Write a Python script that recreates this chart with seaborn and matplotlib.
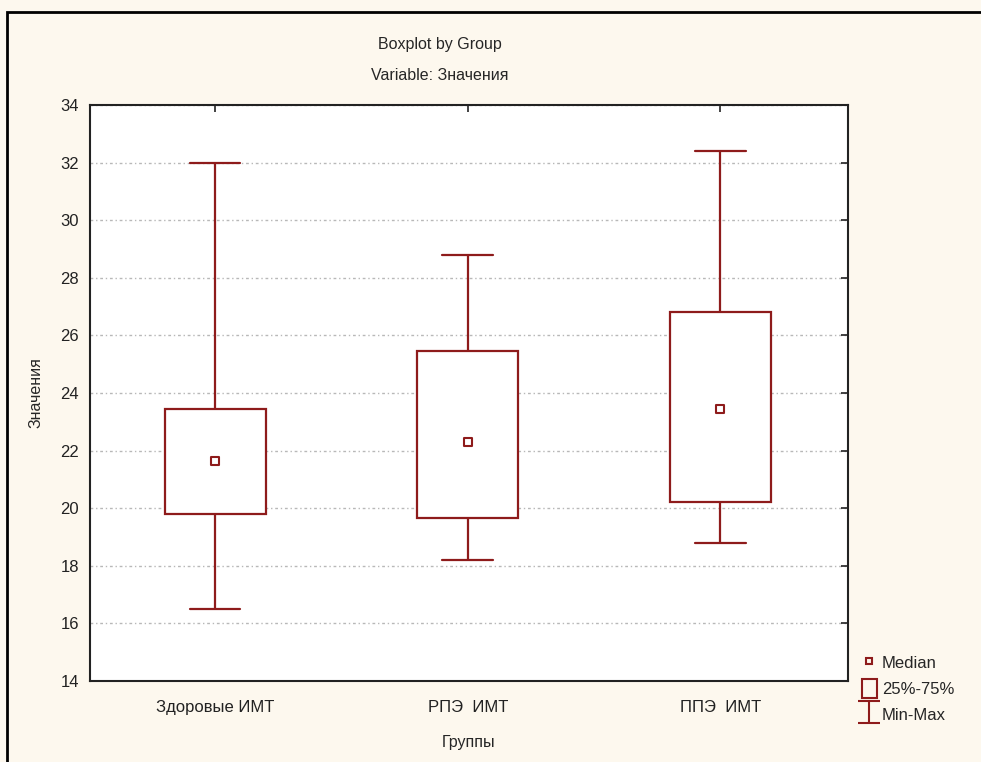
import matplotlib
matplotlib.use('Agg')
import matplotlib.pyplot as plt
from matplotlib.lines import Line2D
from matplotlib.patches import Patch, Rectangle
from matplotlib.path import Path
import pandas as pd
import seaborn as sns

groups = ['Здоровые ИМТ', 'РПЭ  ИМТ', 'ППЭ  ИМТ']
mins = [16.5, 18.2, 18.8]
q1 = [19.8, 19.65, 20.2]
medians = [21.65, 22.3, 23.45]
q3 = [23.45, 25.45, 26.8]
maxs = [32.0, 28.8, 32.4]

red = '#8e1b1b'
bg = '#fdf8ee'

# five-number rows, so the box quartiles equal the values above
rows = []
for g, a, b, c, d, e in zip(groups, mins, q1, medians, q3, maxs):
    for v in (a, b, c, d, e):
        rows.append({'Группы': g, 'Значения': v})
df = pd.DataFrame(rows)
med = pd.DataFrame({'Группы': groups, 'Значения': medians})

sns.set_style('white')
plt.rcParams['font.family'] = ['Liberation Sans', 'DejaVu Sans']

fig = plt.figure(figsize=(9.81, 7.62), dpi=100, facecolor=bg)
ax = fig.add_axes([90 / 981, 1 - 681 / 762, 758 / 981, 576 / 762])
ax.set_facecolor('white')

sns.boxplot(data=df, x='Группы', y='Значения', order=groups, whis=(0, 100),
            width=0.4, color='white', linecolor=red, linewidth=1.6,
            showfliers=False, capwidths=0.2,
            medianprops={'visible': False}, ax=ax, zorder=3)
sns.scatterplot(data=med, x='Группы', y='Значения', marker='s', s=40,
                facecolor='white', edgecolor=red, linewidth=1.5, ax=ax, zorder=4)

ax.set_ylim(14, 34)
ax.set_xlim(-0.495, 2.505)
ax.set_yticks(range(14, 35, 2))
ax.yaxis.grid(True, color='#b8b8b8', linestyle=(0, (2, 2, 1, 2)), linewidth=1, zorder=0)
ax.set_axisbelow(True)
for s in ax.spines.values():
    s.set_color('#222222')
    s.set_linewidth(1.5)
ax.tick_params(direction='in', length=5, width=1.2, top=True, right=True,
               labelsize=12, pad=14, colors='#222222')
ax.tick_params(axis='y', pad=8)
ax.set_xlabel('Группы', fontsize=11.5, labelpad=14)
ax.set_ylabel('Значения', fontsize=11.5, labelpad=12)

fig.text(440 / 981, 1 - 44 / 762, 'Boxplot by Group', ha='center', va='center', fontsize=11.5)
fig.text(440 / 981, 1 - 76 / 762, 'Variable: Значения', ha='center', va='center', fontsize=11.5)

# outer frame
fig.patches.append(Rectangle((7 / 981, -0.05), 1.1, 1 - 12 / 762 + 0.05, transform=fig.transFigure,
                             fill=False, edgecolor='black', linewidth=2))

ibeam = Path([(-1, 1), (1, 1), (0, 1), (0, -1), (-1, -1), (1, -1)],
             [Path.MOVETO, Path.LINETO, Path.MOVETO, Path.LINETO, Path.MOVETO, Path.LINETO])
handles = [
    Line2D([], [], marker='s', markersize=5, markerfacecolor='none', markeredgecolor=red,
           markeredgewidth=1.5, linestyle='none'),
    Patch(facecolor='none', edgecolor=red, linewidth=1.5),
    Line2D([], [], marker=ibeam, markersize=16, markerfacecolor='none', markeredgecolor=red,
           markeredgewidth=1.5, linestyle='none'),
]
fig.legend(handles, ['Median', '25%-75%', 'Min-Max'], loc='upper left',
           bbox_to_anchor=(855 / 981, 1 - 647 / 762), frameon=False, fontsize=12,
           handlelength=0.9, handleheight=1.3, handletextpad=0.3, labelspacing=0.45,
           borderaxespad=0)

fig.savefig('out.png', dpi=100, facecolor=bg)
